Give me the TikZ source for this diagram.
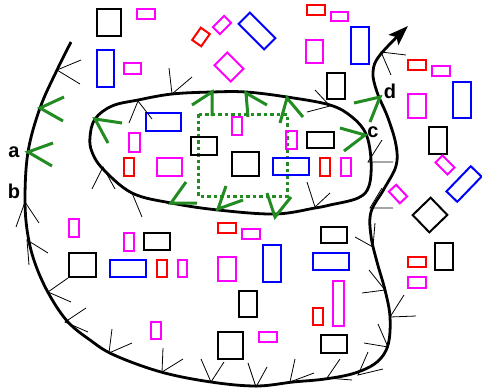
\documentclass[tikz,border=0pt]{standalone}
\usepackage{fontspec}
\setsansfont{Liberation Sans}
\usetikzlibrary{arrows.meta}
\definecolor{vgreen}{RGB}{34,139,34}
\definecolor{vmag}{RGB}{255,0,255}

\begin{document}
\begin{tikzpicture}[x=1pt, y=-1pt,
        % curves
        outerpath/.style={line width=2.8pt, draw=black, -{Stealth[length=20pt, width=14pt, inset=4pt]}},
        innerpath/.style={line width=2.8pt, draw=black},
        dotbox/.style={draw=vgreen, line width=3pt, dash pattern=on 3.5pt off 3pt},
        % little marks on the curves
        vmark/.style={draw=black, line width=0.8pt},
        gmark/.style={draw=vgreen, line width=3pt},
        % boxes
        blackbox/.style={draw=black, line width=2pt},
        bluebox/.style={draw=blue, line width=2pt},
        magbox/.style={draw=vmag, line width=2pt},
        redbox/.style={draw=red, line width=2pt},
        tiltbox/.style={rectangle, inner sep=0pt, line width=2pt},
        lbl/.style={font=\sffamily\bfseries\fontsize{20}{20}\selectfont, inner sep=0pt}
    ]
    \useasboundingbox (0,0) rectangle (482,389);

    % Outer curve
    \draw[outerpath] plot[smooth, tension=0.6] coordinates {(71,42) (57,70) (40,108) (28,152) (25,200) (28,236) (36,266) (50,296) (68,322) (90,340) (114,355) (161,372) (211,382) (256,386) (293,382) (325,379) (355,373) (377,362) (388,345) (390,317) (385,290) (377,262) (371,236) (371,212) (384,189) (396,166) (396,145) (388,118) (377,92) (373,72) (380,55) (408,26)};

    % Inner closed curve
    \draw[innerpath] plot[smooth cycle, tension=0.6] coordinates {(95,119) (112,106) (138,100) (172,94) (212,92) (246,92) (287,97) (330,105) (352,117) (366,134) (371,160) (369,186) (358,198) (330,205) (315,208) (275,214) (218,210) (171,203) (132,193) (103,169) (92,152) (90,137)};

    % Dotted green box
    \draw[dotbox] (198,114) rectangle (287,196);

    % Black boxes
    \draw[blackbox] (97,9) rectangle (121,36) (191,137) rectangle (217,155) (232,152) rectangle (259,176)
        (307,132) rectangle (334,148) (327,73) rectangle (345,99) (429,127) rectangle (447,154)
        (144,233) rectangle (170,250) (69,253) rectangle (96,277) (239,291) rectangle (257,317)
        (218,332) rectangle (243,359) (321,227) rectangle (347,243) (321,335) rectangle (347,353)
        (435,243) rectangle (453,270);
    \node[tiltbox, draw=black, minimum width=25pt, minimum height=24pt, rotate=44] (kdiam) at (430,215) {};

    % Blue boxes
    \draw[bluebox] (97,50) rectangle (114,87) (146,113) rectangle (181,131) (273,158) rectangle (309,175)
        (351,27) rectangle (369,64) (453,82) rectangle (471,118) (110,260) rectangle (146,277)
        (263,245) rectangle (281,282) (313,253) rectangle (349,270);
    \node[tiltbox, draw=blue, minimum width=36pt, minimum height=16pt, rotate=-45] (btop) at (257,31) {};
    \node[tiltbox, draw=blue, minimum width=35pt, minimum height=15pt, rotate=46] (bright) at (464,184) {};

    % Magenta boxes
    \draw[magbox] (137,9) rectangle (155,19) (124,63) rectangle (141,74) (232,117) rectangle (242,135)
        (129,133) rectangle (140,152) (157,158) rectangle (182,176) (286,131) rectangle (297,149)
        (341,158) rectangle (351,176) (306,40) rectangle (323,63) (331,12) rectangle (348,21)
        (432,66) rectangle (450,76) (408,94) rectangle (426,118) (69,219) rectangle (79,237)
        (124,233) rectangle (134,251) (178,260) rectangle (187,277) (218,257) rectangle (236,281)
        (242,229) rectangle (260,239) (259,332) rectangle (277,342) (333,281) rectangle (344,326)
        (408,277) rectangle (426,288) (151,322) rectangle (161,339);
    \node[tiltbox, draw=vmag, minimum width=16pt, minimum height=10pt, rotate=45] (mtop) at (222,25) {};
    \node[tiltbox, draw=vmag, minimum width=18pt, minimum height=23pt, rotate=45] (msq) at (229,67) {};
    \node[tiltbox, draw=vmag, minimum width=17pt, minimum height=10pt, rotate=-45] (mright) at (445,165) {};
    \node[tiltbox, draw=vmag, minimum width=16pt, minimum height=10pt, rotate=-47] (mmid) at (398,194) {};

    % Red boxes
    \draw[redbox] (307,5) rectangle (325,15) (124,158) rectangle (134,176) (320,158) rectangle (330,176)
        (408,60) rectangle (426,70) (218,223) rectangle (236,233) (157,260) rectangle (167,277)
        (408,257) rectangle (426,267) (313,308) rectangle (323,325);
    \node[tiltbox, draw=red, minimum width=15pt, minimum height=11pt, rotate=55] (rtop) at (201,37) {};

    % Thin marks, outer curve
    \draw[vmark] (81,60) -- (57,70) -- (80,84);
    \draw[vmark] (16,227) -- (25,202) -- (39,223);
    \draw[vmark] (48,253) -- (27,240) -- (29,265);
    \draw[vmark] (68,278) -- (48,292) -- (71,302);
    \draw[vmark] (86,308) -- (65,322) -- (88,332);
    \draw[vmark] (112,329) -- (109,353) -- (132,343);
    \draw[vmark] (163,348) -- (162,372) -- (183,359);
    \draw[vmark] (201,359) -- (211,382) -- (224,362);
    \draw[vmark] (248,363) -- (256,387) -- (267,367);
    \draw[vmark] (295,359) -- (290,382) -- (314,373);
    \draw[vmark] (340,359) -- (327,378) -- (352,380);
    \draw[vmark] (368,352) -- (358,375) -- (383,369);
    \draw[vmark] (378,324) -- (388,347) -- (364,343);
    \draw[vmark] (404,295) -- (390,317) -- (416,316);
    \draw[vmark] (369,270) -- (385,290) -- (362,293);
    \draw[vmark] (355,237) -- (373,247) -- (375,223);
    \draw[vmark] (382,188) -- (370,208) -- (393,208);
    \draw[vmark] (382,140) -- (368,162) -- (393,162);
    \draw[vmark] (406,55) -- (381,52) -- (391,75);

    % Thin marks, inner curve
    \draw[vmark] (129,123) -- (138,101) -- (152,119);
    \draw[vmark] (169,68) -- (172,94) -- (192,77);
    \draw[vmark] (315,90) -- (330,106) -- (307,112);
    \draw[vmark] (92,189) -- (103,167) -- (115,189);
    \draw[vmark] (132,193) -- (142,217);
    \draw[vmark] (307,182) -- (315,207) -- (330,193);

    % Green marks
    \draw[gmark] (64,97) -- (40,108) -- (63,121);
    \draw[gmark] (53,143) -- (28,152) -- (52,166);
    \draw[gmark] (122,123) -- (95,119) -- (108,143);
    \draw[gmark] (192,105) -- (212,92) -- (212,116);
    \draw[gmark] (267,105) -- (246,93) -- (248,117);
    \draw[gmark] (280,123) -- (287,98) -- (303,117);
    \draw[gmark] (340,128) -- (365,135) -- (344,151);
    \draw[gmark] (354,103) -- (380,97) -- (370,122);
    \draw[gmark] (186,182) -- (171,203) -- (197,203);
    \draw[gmark] (226,186) -- (218,209) -- (243,200);
    \draw[gmark] (267,193) -- (275,217) -- (291,197);

    % Labels
    \node[lbl] (la) at (14,152) {a};
    \node[lbl] (lb) at (14,191) {b};
    \node[lbl] (lc) at (373,132) {c};
    \node[lbl] (ld) at (390,91) {d};
\end{tikzpicture}
\end{document}
